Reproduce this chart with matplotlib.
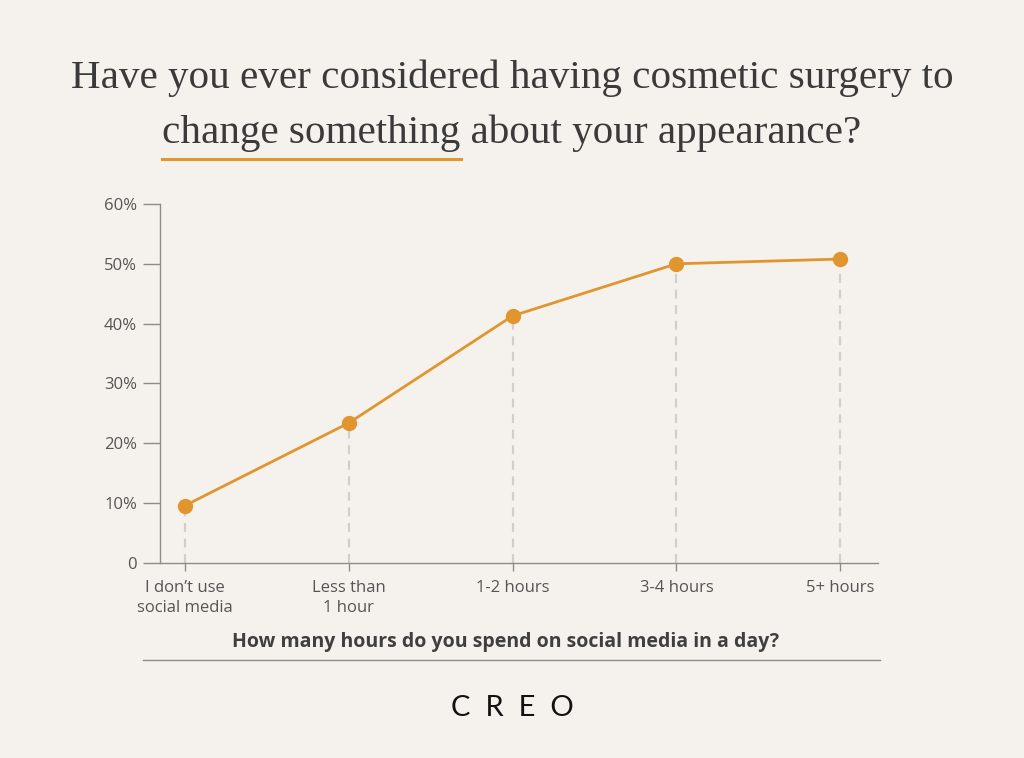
import matplotlib.pyplot as plt
import numpy as np

# Chart data
categories = ["I don\u2019t use\nsocial media", "Less than\n1 hour", "1-2 hours", "3-4 hours", "5+ hours"]
share_considered = [9.6, 23.4, 41.3, 50.0, 50.8]
y_ticks = [0, 10, 20, 30, 40, 50, 60]
y_tick_labels = ["0", "10%", "20%", "30%", "40%", "50%", "60%"]

BG = '#F5F2ED'
ORANGE = '#E0952F'
AXIS_GREY = '#8C8C8C'
TEXT_GREY = '#555555'

plt.rcParams['font.family'] = ['Open Sans', 'DejaVu Sans']

fig = plt.figure(figsize=(10.24, 7.58), dpi=100, facecolor=BG)
ax = fig.add_axes([0.15625, 0.2573, 0.701, 0.4736])
ax.set_facecolor(BG)

x = np.arange(len(categories))

# Dashed drop lines from each point to the axis
for xi, yi in zip(x, share_considered):
    ax.plot([xi, xi], [0, yi], color='#D2CFCB', lw=1.6,
            linestyle=(0, (4, 3)), zorder=1, solid_capstyle='butt')

ax.plot(x, share_considered, color=ORANGE, lw=2, marker='o', markersize=10,
        markerfacecolor=ORANGE, markeredgecolor=ORANGE, zorder=3, clip_on=False)

ax.set_xlim(-0.153, 4.23)
ax.set_ylim(0, 60)

ax.set_yticks(y_ticks)
ax.set_yticklabels(y_tick_labels)
ax.set_xticks(x)
ax.set_xticklabels(categories, linespacing=1.3)

for side in ['top', 'right']:
    ax.spines[side].set_visible(False)
for side in ['left', 'bottom']:
    ax.spines[side].set_color(AXIS_GREY)
    ax.spines[side].set_linewidth(1)

ax.tick_params(axis='y', length=12.5, width=1, color=AXIS_GREY, pad=4,
               labelsize=12, labelcolor=TEXT_GREY)
ax.tick_params(axis='x', length=6, width=1, color=AXIS_GREY, pad=6.5,
               labelsize=12, labelcolor=TEXT_GREY)

# Axis title and rule below it
fig.text(0.494, 1 - 642 / 758, "How many hours do you spend on social media in a day?",
         ha='center', va='center', fontsize=14, fontweight='bold', color='#3F3F3F')
fig.add_artist(plt.Line2D([143 / 1024, 880 / 1024], [1 - 660 / 758] * 2,
                          color=AXIS_GREY, lw=1))

# Title
title_kw = dict(ha='center', va='center', fontsize=29.6, color='#3A3A3A',
                family=['Liberation Serif', 'DejaVu Serif'])
fig.text(0.5, 1 - 78 / 758, "Have you ever considered having cosmetic surgery to", **title_kw)
line2 = fig.text(0.5, 1 - 133 / 758, "change something about your appearance?", **title_kw)

# Underline below "change something"
fig.canvas.draw()
renderer = fig.canvas.get_renderer()
bb = line2.get_window_extent(renderer)
probe = fig.text(0, 0, "change something", **title_kw)
w = probe.get_window_extent(renderer).width
probe.remove()
fig.add_artist(plt.Line2D([bb.x0 / 1024, (bb.x0 + w) / 1024], [1 - 159 / 758] * 2,
                          color=ORANGE, lw=2.2))

# Brand
fig.text(0.5, 1 - 708 / 758, "C  R  E  O", ha='center', va='center', fontsize=21,
         color='#111111', family=['Lato', 'DejaVu Sans'])

fig.savefig('out.png', dpi=100, facecolor=BG)
